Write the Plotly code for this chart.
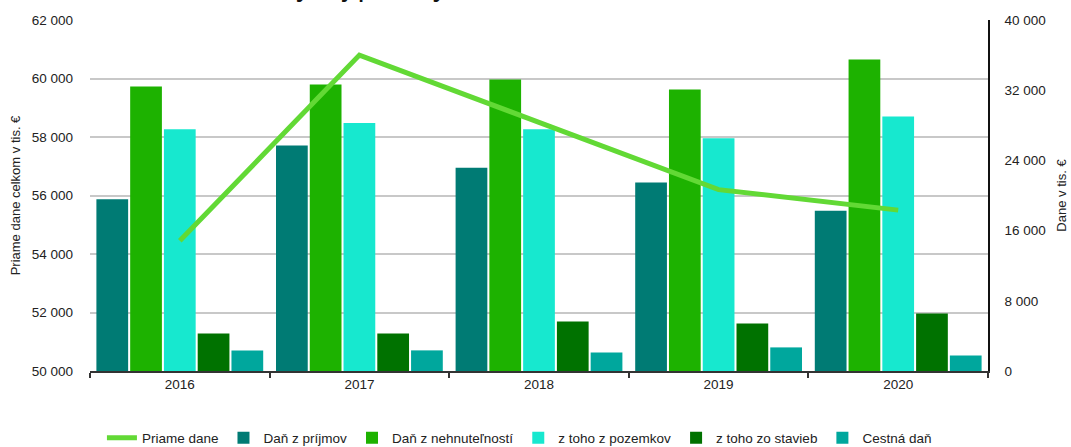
import plotly.graph_objects as go

years = ["2016", "2017", "2018", "2019", "2020"]

# Line series (left axis, tis. €)
priame_dane = [54450, 60800, 58500, 56200, 55500]

# Bar series (right axis, tis. €)
dan_z_prijmov = [19580, 25700, 23150, 21490, 18260]
dan_z_nehnutelnosti = [32410, 32640, 33220, 32080, 35500]
z_toho_z_pozemkov = [27540, 28250, 27540, 26510, 28990]
z_toho_zo_stavieb = [4280, 4280, 5640, 5420, 6550]
cestna_dan = [2350, 2350, 2120, 2690, 1780]

bar_series = [
    ("Daň z príjmov", dan_z_prijmov, "#007B74"),
    ("Daň z nehnuteľností", dan_z_nehnutelnosti, "#1DB200"),
    ("z toho z pozemkov", z_toho_z_pozemkov, "#17E8CF"),
    ("z toho zo stavieb", z_toho_zo_stavieb, "#007200"),
    ("Cestná daň", cestna_dan, "#00A79D"),
]

FONT = "Liberation Sans, Arial, Helvetica, sans-serif"

fig = go.Figure()
for name, vals, col in bar_series:
    fig.add_trace(go.Bar(x=years, y=vals, name=name, marker_color=col,
                         marker_line_width=0, yaxis="y"))

fig.add_trace(go.Scatter(x=years, y=priame_dane, name="Priame dane", mode="lines",
                         line=dict(color="#62D935", width=5), yaxis="y2",
                         legendrank=1))

fig.add_annotation(text="Vývoj priamych daní obce, 2016 – 2020",
                   xref="paper", yref="paper", x=0.501, y=1.046,
                   xanchor="center", yanchor="bottom", showarrow=False,
                   font=dict(size=30, color="#111111", family=FONT))

fig.update_layout(
    width=1071, height=447,
    margin=dict(l=90, r=83, t=20, b=76, autoexpand=False),
    paper_bgcolor="white", plot_bgcolor="white",
    font=dict(family=FONT, size=13, color="#222222"),
    separators=", ",
    barmode="group", bargap=0.06, bargroupgap=0.06,
    xaxis=dict(type="category", showline=True, linecolor="#333333", linewidth=2,
               ticks="outside", tickson="boundaries", ticklen=5, tickwidth=1.5,
               tickcolor="#333333", showgrid=False, tickfont=dict(size=13.5),
               automargin=False),
    yaxis=dict(side="right", range=[0, 40000], tickvals=[0, 8000, 16000, 24000, 32000, 40000],
               tickformat=",d", showgrid=False, showline=True, linecolor="#111111",
               linewidth=1.5, zeroline=False, ticklabelstandoff=12, automargin=False,
               tickfont=dict(size=13.5),
               title=dict(text="Dane v tis. €", font=dict(size=13), standoff=12)),
    yaxis2=dict(overlaying="y", side="left", range=[50000, 62000], dtick=2000,
                tickformat=",d", showgrid=True, gridcolor="#C8C8C8", gridwidth=1.5,
                showline=False, zeroline=False, ticklabelstandoff=16, automargin=False,
                tickfont=dict(size=13.5),
                title=dict(text="Priame dane celkom v tis. €", font=dict(size=13), standoff=8)),
    legend=dict(orientation="h", x=0.485, xanchor="center", xref="container",
                y=0.02, yanchor="middle", yref="container",
                font=dict(size=13.5), bgcolor="rgba(0,0,0,0)"),
    showlegend=True,
)

fig.write_html("out.html", config={"displayModeBar": False},
               post_script="document.body.style.margin='0';document.body.style.overflow='hidden';")
